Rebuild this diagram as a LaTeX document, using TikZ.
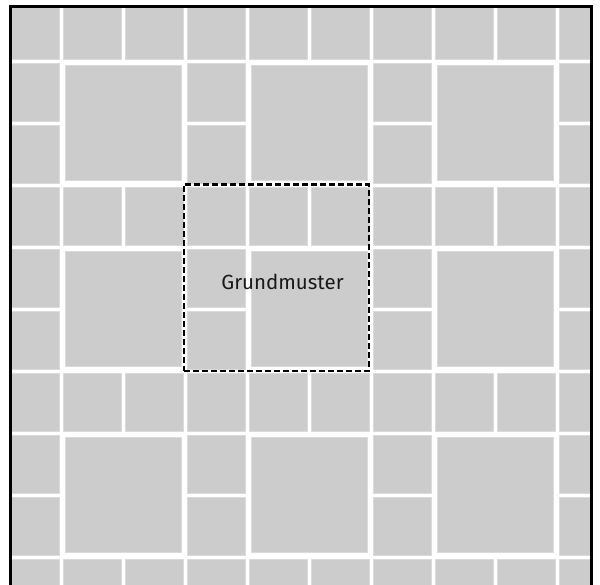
\documentclass[tikz,border=0pt]{standalone}
\usepackage{fontspec}
\setmainfont{Fira Sans}
\begin{document}
\begin{tikzpicture}[x=1pt,y=-1pt,
  tile/.style={fill=black!20,draw=black!14,line width=0.6pt},
  frameline/.style={line width=3pt,black},
  patternbox/.style={draw=black,line width=2.4pt,dash pattern=on 6pt off 3pt,minimum width=185pt,minimum height=186.5pt,inner sep=0pt},
  lbl/.style={font=\fontsize{20.5}{23}\selectfont,text=black!90}]
\useasboundingbox (0,0) rectangle (600,584);
\fill[white] (0,0) rectangle (600,584);
\begin{scope}
\clip (11.5,8) rectangle (590,600);
\foreach \P in {0,...,3}{
  \foreach \Q in {0,...,3}{
    \pgfmathsetmacro{\ox}{-1+186*\P}
    \pgfmathsetmacro{\oy}{-1+186*\Q}
    % top row: three small tiles
    \foreach \a in {0,1,2}{
      \fill[tile] ({\ox+62*\a+2.2},{\oy+2.2}) rectangle ({\ox+62*(\a+1)-2.2},{\oy+62-2.2});
    }
    % left column: two small tiles
    \foreach \b in {1,2}{
      \fill[tile] ({\ox+2.2},{\oy+62*\b+2.2}) rectangle ({\ox+62-2.2},{\oy+62*(\b+1)-2.2});
    }
    % big square
    \fill[tile] ({\ox+62+4.6},{\oy+62+4.6}) rectangle ({\ox+186-4.2},{\oy+186-4.6});
  }
}
\end{scope}
\draw[frameline] (10,600) -- (10,6.5) -- (591.5,6.5) -- (591.5,600);
\node[patternbox] (muster) at (276.2,277.8) {};
\node[lbl] (label) at (282.5,282) {Grundmuster};
\end{tikzpicture}
\end{document}
